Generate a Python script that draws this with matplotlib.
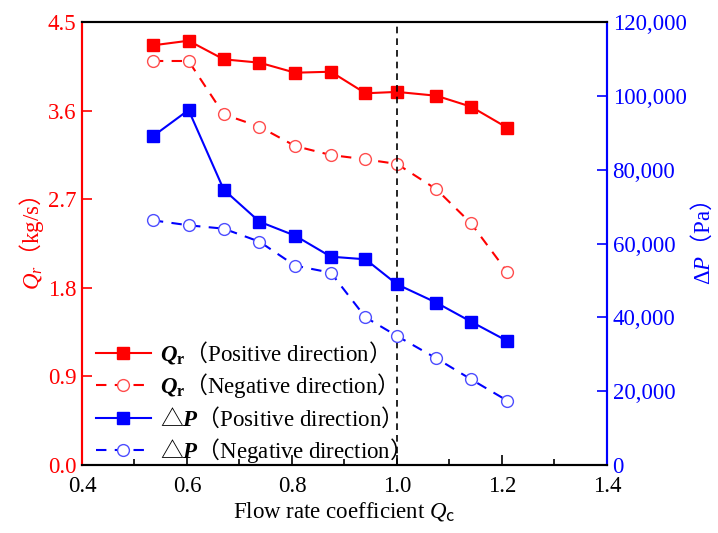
import matplotlib
matplotlib.use("Agg")
import matplotlib.pyplot as plt
from matplotlib.ticker import MultipleLocator, FuncFormatter

plt.rcParams['font.family'] = ['Liberation Serif', 'Noto Sans CJK SC', 'DejaVu Sans']
plt.rcParams['mathtext.fontset'] = 'custom'
plt.rcParams['mathtext.rm'] = 'Noto Sans CJK SC'
plt.rcParams['mathtext.it'] = 'Liberation Serif:italic'
plt.rcParams['mathtext.bf'] = 'Liberation Serif:bold'
plt.rcParams['mathtext.bfit'] = 'Liberation Serif:bold:italic'

flow_coef = [0.535, 0.603, 0.670, 0.738, 0.806, 0.874, 0.940, 1.000, 1.075, 1.141, 1.210]
qr_pos = [4.263, 4.310, 4.121, 4.087, 3.985, 3.995, 3.776, 3.790, 3.751, 3.640, 3.426]
qr_neg = [4.104, 4.104, 3.562, 3.437, 3.240, 3.149, 3.105, 3.058, 2.801, 2.455, 1.961]
dp_pos = [89040, 96160, 74580, 65910, 62120, 56430, 55720, 48950, 43970, 38830, 33590]
dp_neg = [66280, 64930, 64020, 60500, 53990, 52090, 40000, 34940, 28890, 23210, 17430]

RED = '#ff0000'
BLUE = '#0000ff'
FS = 16.5

fig = plt.figure(figsize=(7.18, 5.33), dpi=100)
ax = fig.add_axes([0.1142, 0.1276, 0.7312, 0.8311])
ax2 = ax.twinx()

ms = 8.5
l1, = ax.plot(flow_coef, qr_pos, color=RED, lw=1.5, marker='s', ms=ms,
              mfc=RED, mec=RED,
              label=r'$\mathbfit{Q}_\mathbf{r}\mathrm{（}$Positive direction$\mathrm{）}$')
l2, = ax.plot(flow_coef, qr_neg, color=RED, lw=1.5, ls=(0, (5, 4)), marker='o', ms=ms,
              mfc='white', mec='#ff4d4d', mew=1.0,
              label=r'$\mathbfit{Q}_\mathbf{r}\mathrm{（}$Negative direction$\mathrm{）}$')
l3, = ax2.plot(flow_coef, dp_pos, color=BLUE, lw=1.5, marker='s', ms=ms,
               mfc=BLUE, mec=BLUE,
               label=r'$\mathrm{△}\mathbfit{P}\mathrm{（}$Positive direction$\mathrm{）}$')
l4, = ax2.plot(flow_coef, dp_neg, color=BLUE, lw=1.5, ls=(0, (5, 4)), marker='o', ms=ms,
               mfc='white', mec='#4d4dff', mew=1.0,
               label=r'$\mathrm{△}\mathbfit{P}\mathrm{（}$Negative direction$\mathrm{）}$')

ax.axvline(1.0, color='black', lw=1.2, ls=(0, (4, 3)))

ax.set_xlim(0.4, 1.4)
ax.set_ylim(0, 4.5)
ax2.set_ylim(0, 120000)

ax.xaxis.set_major_locator(MultipleLocator(0.2))
ax.xaxis.set_minor_locator(MultipleLocator(0.1))
ax.xaxis.set_major_formatter(FuncFormatter(lambda v, p: f'{v:.1f}'))
ax.yaxis.set_major_locator(MultipleLocator(0.9))
ax.yaxis.set_major_formatter(FuncFormatter(lambda v, p: f'{v:.1f}'))
ax2.yaxis.set_major_locator(MultipleLocator(20000))
ax2.yaxis.set_major_formatter(FuncFormatter(lambda v, p: f'{int(round(v)):,}'))

ax.tick_params(axis='x', which='major', direction='in', length=7, width=1.2, labelsize=FS,
               colors='black', top=False, pad=8)
ax.tick_params(axis='x', which='minor', direction='in', length=4, width=1.2, top=False)
ax.tick_params(axis='y', which='major', direction='in', length=7, width=1.2, labelsize=FS,
               colors=RED, pad=4)
ax2.tick_params(axis='y', which='major', direction='in', length=7, width=1.2, labelsize=FS,
                colors=BLUE, pad=4)

for a in (ax, ax2):
    a.spines['top'].set_color('black')
    a.spines['bottom'].set_color('black')
    a.spines['left'].set_color(RED)
    a.spines['right'].set_color(BLUE)
    for s in a.spines.values():
        s.set_linewidth(1.5)

ax.set_xlabel(r'Flow rate coefficient $Q_\mathrm{c}$', fontsize=FS, labelpad=2)
ax.set_ylabel(r'$Q_r\mathrm{（}$kg/s$\mathrm{）}$', fontsize=FS, color=RED, labelpad=1)
ax2.set_ylabel(r'Δ$P\mathrm{（}$Pa$\mathrm{）}$', fontsize=FS, color=BLUE, labelpad=2)

leg = ax.legend(handles=[l1, l2, l3, l4], loc='lower left', bbox_to_anchor=(0.022, -0.005),
                frameon=False, fontsize=FS, handlelength=2.4, handletextpad=0.4,
                labelspacing=0.22, borderaxespad=0.0, borderpad=0.1)

fig.savefig('out.png', dpi=100)
